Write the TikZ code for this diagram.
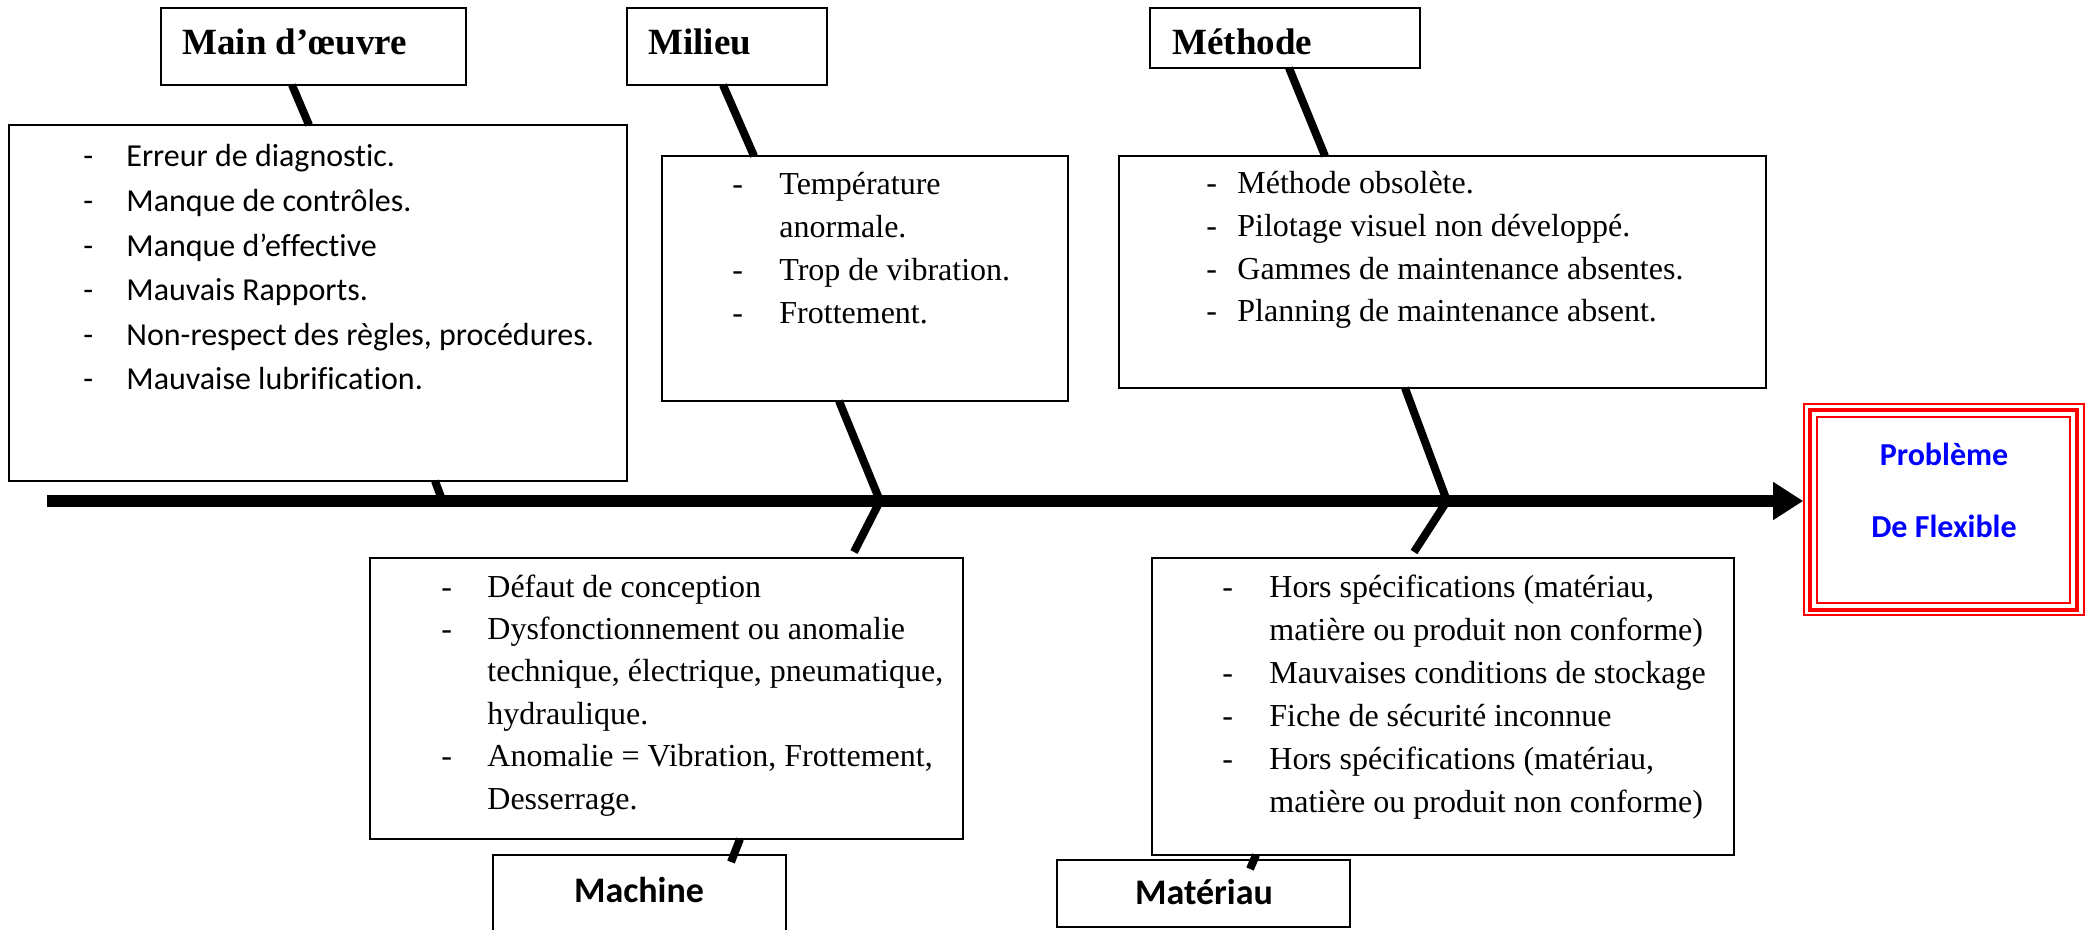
\documentclass[tikz,border=0pt]{standalone}
\usepackage{fontspec}
\setmainfont{Liberation Serif}
\newfontfamily\calibri[Ligatures=NoCommon]{Carlito}
\usetikzlibrary{arrows.meta,fit}

% one list of causes: prefix, dash x, text x, first baseline, line step, font, {flag/text,...}
\newcommand\causelist[7]{%
  \foreach \d/\t [count=\i from 0] in {#7} {
    \ifnum\d=1 \node[itemdash,font=#6] (#1-d\i) at (#2,{#4+\i*#5}) {-};\fi
    \node[itemtext,font=#6] (#1-t\i) at (#3,{#4+\i*#5}) {\t};
  }}

\begin{document}
\begin{tikzpicture}[x=0.5pt,y=-0.5pt,
  box/.style={draw=black,line width=1pt,inner sep=0pt,fill=white},
  bone/.style={line width=4pt,black},
  spine/.style={line width=6pt,black,-{Triangle[length=15pt,width=18pt]}},
  itemdash/.style={anchor=base west,inner sep=0pt},
  itemtext/.style={anchor=base west,inner sep=0pt},
  headserif/.style={anchor=base west,inner sep=0pt,font=\fontsize{18.5}{21}\selectfont\bfseries},
  headsans/.style={anchor=base,inner sep=0pt,font=\calibri\fontsize{18}{21}\selectfont\bfseries},
  probtext/.style={anchor=base,inner sep=0pt,text={rgb,255:red,0;green,0;blue,255},font=\calibri\fontsize{16}{19}\selectfont\bfseries}]

\useasboundingbox (0,0) rectangle (2088,930);

% ---- category boxes and cause boxes ----
\node[box,fit={(161,8)(466,85)}] (mainB) {};
\node[box,fit={(9,125)(627,481)}] (mainC) {};
\node[box,fit={(627,8)(827,85)}] (milB) {};
\node[box,fit={(662,156)(1068,401)}] (milC) {};
\node[box,fit={(1150,8)(1420,68)}] (metB) {};
\node[box,fit={(1119,156)(1766,388)}] (metC) {};
\node[box,fit={(370,558)(963,839)}] (macC) {};
\node[box,fit={(493,855)(786,945)}] (macB) {};
\node[box,fit={(1152,558)(1734,855)}] (matC) {};
\node[box,fit={(1057,860)(1350,927)}] (matB) {};

% ---- effect box with triple red border ----
\node[draw=red,line width=0.8pt,inner sep=0pt,fit={(1804,404)(2084,615)}] (prob) {};
\draw[red,line width=2pt] ([shift={(3.6pt,-3.6pt)}]prob.north west) rectangle ([shift={(-3.8pt,2.8pt)}]prob.south east);
\draw[red,line width=0.8pt] ([shift={(7pt,-7pt)}]prob.north west) rectangle ([shift={(-7.4pt,6.4pt)}]prob.south east);
\node[probtext] (probA) at (1944,466) {Problème};
\node[probtext] (probB) at (1944,538) {De Flexible};

% ---- spine ----
\coordinate (tail) at (47,501);
\coordinate (head) at (tail -| prob.west);
\draw[spine] (tail) -- (head);

% ---- bones ----
\coordinate (j1) at (880,501);
\coordinate (j2) at (1447,501);
\coordinate (mo1) at (292,85);  \coordinate (mo2) at (309,125);
\coordinate (mo3) at (435,481); \coordinate (mo4) at (441,497);
\coordinate (mi1) at (723,85);  \coordinate (mi2) at (754,156);
\coordinate (mi3) at (839,401);
\coordinate (me1) at (1289,68); \coordinate (me2) at (1325,156);
\coordinate (me3) at (1405,388);
\coordinate (ma1) at (854,552);
\coordinate (ma2) at (740,839); \coordinate (ma3) at (731,862);
\coordinate (mt1) at (1414,552);
\coordinate (mt2) at (1256,855); \coordinate (mt3) at (1250,869);

\draw[bone] (mo1) -- (mo2);
\draw[bone] (mo3) -- (mo4);
\draw[bone] (mi1) -- (mi2);
\draw[bone] (mi3) -- (j1) -- (ma1);
\draw[bone] (me1) -- (me2);
\draw[bone] (me3) -- (j2) -- (mt1);
\draw[bone] (ma2) -- (ma3);
\draw[bone] (mt2) -- (mt3);

% ---- headings ----
\node[headserif] (mainH) at (182,55) {Main d’œuvre};
\node[headserif] (milH) at (648,55) {Milieu};
\node[headserif] (metH) at (1172,55) {Méthode};
\node[headsans] (macH) at (639,902) {Machine};
\node[headsans] (matH) at (1204,904) {Matériau};

% ---- causes ----
\causelist{mo}{83}{126}{167}{44.6}{\calibri\fontsize{16}{19}\selectfont}{%
  1/{Erreur de diagnostic.},1/{Manque de contrôles.},1/{Manque d’effective},
  1/{Mauvais Rapports.},1/{Non-respect des règles, procédures.},1/{Mauvaise lubrification.}}

\causelist{mi}{732}{779}{195}{42.7}{\fontsize{16}{19}\selectfont}{%
  1/{Température},0/{anormale.},1/{Trop de vibration.},1/{Frottement.}}

\causelist{me}{1206}{1237}{194}{42.6}{\fontsize{16}{19}\selectfont}{%
  1/{Méthode obsolète.},1/{Pilotage visuel non développé.},
  1/{Gammes de maintenance absentes.},1/{Planning de maintenance absent.}}

\causelist{mc}{441}{487}{597}{42.4}{\fontsize{16}{19}\selectfont}{%
  1/{Défaut de conception},1/{Dysfonctionnement ou anomalie},
  0/{technique, électrique, pneumatique,},0/{hydraulique.},
  1/{Anomalie = Vibration, Frottement,},0/{Desserrage.}}

\causelist{mt}{1222}{1269}{597}{43}{\fontsize{16}{19}\selectfont}{%
  1/{Hors spécifications (matériau,},0/{matière ou produit non conforme)},
  1/{Mauvaises conditions de stockage},1/{Fiche de sécurité inconnue},
  1/{Hors spécifications (matériau,},0/{matière ou produit non conforme)}}

\end{tikzpicture}
\end{document}
